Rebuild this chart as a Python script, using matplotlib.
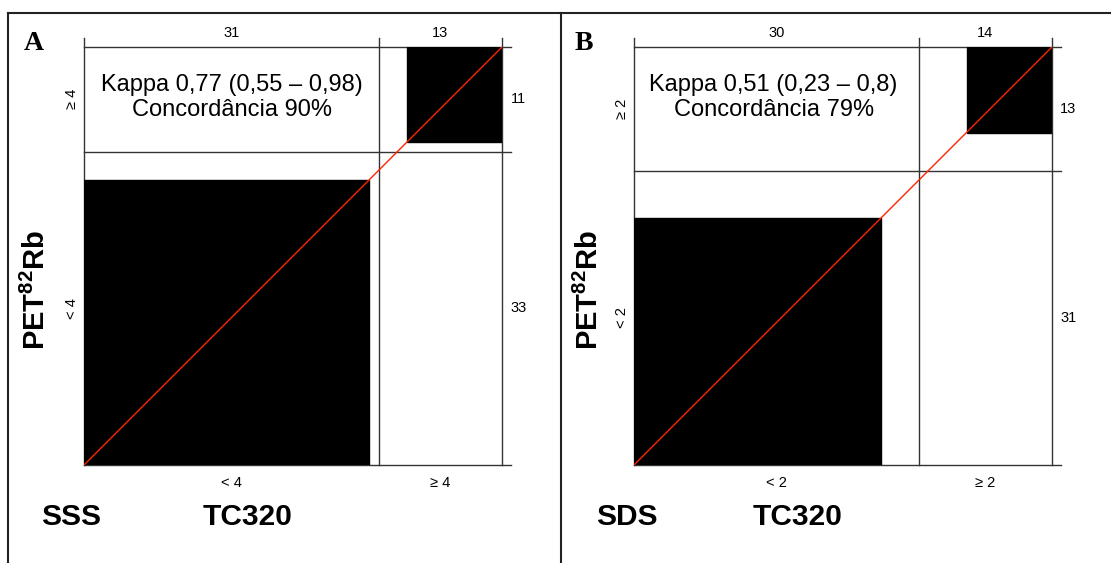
import matplotlib.pyplot as plt
from matplotlib.patches import Rectangle
from matplotlib.lines import Line2D

plt.rcParams['font.family'] = ['Liberation Sans', 'DejaVu Sans']
plt.rcParams['mathtext.fontset'] = 'custom'
plt.rcParams['mathtext.rm'] = 'Liberation Sans'
plt.rcParams['mathtext.bf'] = 'Liberation Sans:bold'

# Dados: painel A (SSS) e painel B (SDS)
a_col_labels = ['< 4', '≥ 4']
a_col_totals = [31, 13]
a_row_labels = ['< 4', '≥ 4']
a_row_totals = [33, 11]
a_agree = [30, 10]
a_text = 'Kappa 0,77 (0,55 – 0,98)\nConcordância 90%'

b_col_labels = ['< 2', '≥ 2']
b_col_totals = [30, 14]
b_row_labels = ['< 2', '≥ 2']
b_row_totals = [31, 13]
b_agree = [26, 9]
b_text = 'Kappa 0,51 (0,23 – 0,8)\nConcordância 79%'

W, H = 1111, 563
fig = plt.figure(figsize=(W / 100, H / 100), dpi=100)


def painel(left_px, letra, score, col_labels, col_totals, row_labels, row_totals,
           agree, texto, txt_x, score_x, pet_x):
    ax = fig.add_axes([left_px / W, (H - 465) / H, 418 / W, 418 / H])
    n = sum(col_totals)
    ax.set_xlim(0, n)
    ax.set_ylim(0, n)
    ax.axis('off')
    ext = n * 9 / 418
    lc = '#333333'
    # linhas verticais
    for x in [0, col_totals[0], n]:
        ax.plot([x, x], [0, n + ext], color=lc, lw=1, clip_on=False)
    # linhas horizontais
    for y in [0, row_totals[0], n]:
        ax.plot([0, n + ext], [y, y], color=lc, lw=1, clip_on=False)
    # quadrados de concordância
    ax.add_patch(Rectangle((0, 0), agree[0], agree[0], color='black', zorder=3))
    ax.add_patch(Rectangle((n - agree[1], n - agree[1]), agree[1], agree[1],
                           color='black', zorder=3))
    ax.plot([0, n], [0, n], color='#ff2200', lw=1, zorder=4)

    # rótulos
    cx = [col_totals[0] / 2, col_totals[0] + col_totals[1] / 2]
    ry = [row_totals[0] / 2, row_totals[0] + row_totals[1] / 2]
    for i in range(2):
        ax.text(cx[i], n + 1.5, str(col_totals[i]), ha='center', va='center', fontsize=10.5)
        ax.text(cx[i], -1.9, col_labels[i], ha='center', va='center', fontsize=10.5)
        ax.text(n + 1.7, ry[i], str(row_totals[i]), ha='center', va='center', fontsize=10.5)
        ax.text(-1.3, ry[i], row_labels[i], ha='center', va='center', fontsize=10.5,
                rotation=90)
    ax.text(txt_x, 38.7, texto, ha='center', va='center', fontsize=17, linespacing=1.2)
    ax.text(pet_x, 18.4, r'PET$^{\mathbf{82}}$Rb', ha='center', va='center', fontsize=21,
            fontweight='bold', rotation=90)
    ax.text(score_x, -5.5, score, ha='left', va='center', fontsize=21.5, fontweight='bold')
    ax.text(17.2, -5.5, 'TC320', ha='center', va='center', fontsize=21.5, fontweight='bold')
    ax.text(-5.3, n + 0.4, letra, ha='center', va='center', fontsize=20,
            fontweight='bold', family='Liberation Serif')


painel(84, 'A', 'SSS', a_col_labels, a_col_totals, a_row_labels, a_row_totals,
       a_agree, a_text, 15.6, -4.5, -5.0)
painel(634, 'B', 'SDS', b_col_labels, b_col_totals, b_row_labels, b_row_totals,
       b_agree, b_text, 14.7, -4.0, -4.7)

# molduras dos painéis
for x0, x1, y0, y1 in [(8, 8, 0, H - 13), (561, 561, 0, H - 13), (8, W, H - 13, H - 13)]:
    fig.add_artist(Line2D([x0 / W, x1 / W], [y0 / H, y1 / H], color='#222222', lw=1.5))

fig.savefig('out.png', dpi=100)
